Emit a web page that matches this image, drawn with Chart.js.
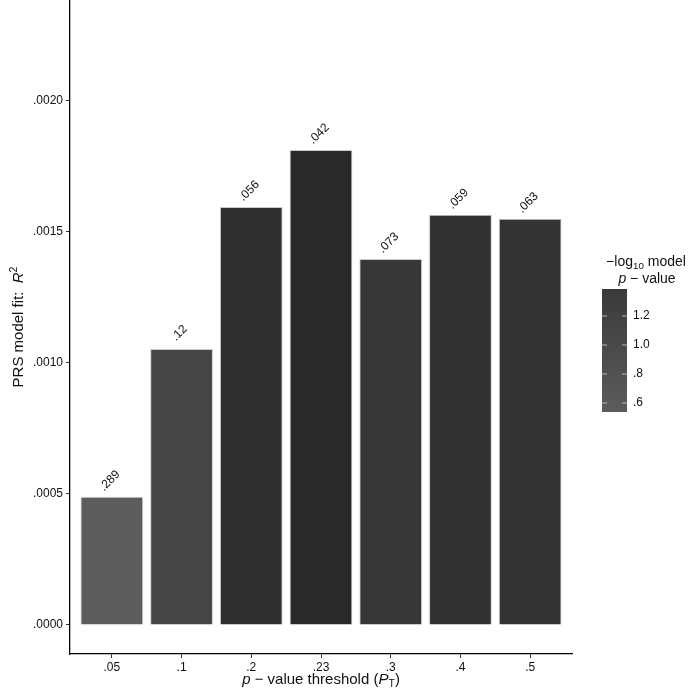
<!DOCTYPE html>
<html>
<head>
<meta charset="utf-8">
<script src="https://cdn.jsdelivr.net/npm/chart.js@4.4.1/dist/chart.umd.min.js"></script>
<style>
  html, body { margin: 0; padding: 0; background: #fff; }
  #wrap { width: 692px; height: 697px; position: relative; }
</style>
</head>
<body>
<div id="wrap"><canvas id="prs" width="692" height="697"></canvas></div>
<script>
// data
var thresholds = ['.05', '.1', '.2', '.23', '.3', '.4', '.5'];
var r2Values = [0.000489, 0.001053, 0.001595, 0.001813, 0.001397, 0.001565, 0.001550];
var pLabels = ['.289', '.12', '.056', '.042', '.073', '.059', '.063'];
var pValues = [0.289, 0.12, 0.056, 0.042, 0.073, 0.059, 0.063];
var yTicks = [0, 0.0005, 0.0010, 0.0015, 0.0020];
var legendTicks = [0.6, 0.8, 1.0, 1.2];
var legendTickLabels = ['.6', '.8', '1.0', '1.2'];

var FONT = '"Liberation Sans", Arial, sans-serif';

// -log10 p, colour goes from light grey (low) to near black (high)
var logP = pValues.map(function (p) { return -Math.log10(p); });
var lowLog = 0.538, highLog = 1.386;
function greyFor(v) {
  var t = (v - lowLog) / (highLog - lowLog);
  t = Math.max(0, Math.min(1, t));
  var c = Math.round(92 - t * 52);
  return 'rgb(' + c + ',' + c + ',' + c + ')';
}
var barColors = logP.map(greyFor);

// draws text made of pieces (italic, sub, sup) centred on x
function drawRich(ctx, parts, x, y, size) {
  var widths = [];
  var total = 0;
  parts.forEach(function (p) {
    var s = p.small ? size * 0.7 : size;
    ctx.font = (p.italic ? 'italic ' : '') + s + 'px ' + FONT;
    var w = ctx.measureText(p.t).width;
    widths.push(w);
    total += w;
  });
  var cx = x - total / 2;
  parts.forEach(function (p, i) {
    var s = p.small ? size * 0.7 : size;
    ctx.font = (p.italic ? 'italic ' : '') + s + 'px ' + FONT;
    ctx.fillText(p.t, cx, y + (p.dy || 0));
    cx += widths[i];
  });
}

var extras = {
  id: 'extras',
  afterDatasetsDraw: function (chart) {
    var ctx = chart.ctx;
    var meta = chart.getDatasetMeta(0);
    ctx.save();
    ctx.fillStyle = '#111';
    // value labels over bars, turned 45 degrees
    ctx.font = '12px ' + FONT;
    ctx.textAlign = 'center';
    ctx.textBaseline = 'middle';
    meta.data.forEach(function (bar, i) {
      ctx.save();
      ctx.translate(bar.x - 2, bar.y - 16);
      ctx.rotate(-Math.PI / 4);
      ctx.fillText(pLabels[i], 0, 0);
      ctx.restore();
    });

    // axis titles
    var area = chart.chartArea;
    ctx.textAlign = 'left';
    ctx.textBaseline = 'middle';
    drawRich(ctx, [
      { t: 'p', italic: true },
      { t: ' \u2212 value threshold (' },
      { t: 'P', italic: true },
      { t: 'T', small: true, dy: 4 },
      { t: ')' }
    ], (area.left + area.right) / 2, 680, 15);

    ctx.save();
    ctx.translate(19, (area.top + area.bottom) / 2);
    ctx.rotate(-Math.PI / 2);
    drawRich(ctx, [
      { t: 'PRS model fit:  ' },
      { t: 'R', italic: true },
      { t: '2', small: true, dy: -5 }
    ], 0, 0, 15);
    ctx.restore();

    // colour bar legend
    var bx = 602, bw = 25, by = 289, bh = 123;
    drawRich(ctx, [
      { t: '\u2212log' },
      { t: '10', small: true, dy: 4 },
      { t: ' model' }
    ], 646, 262, 14);
    drawRich(ctx, [
      { t: 'p', italic: true },
      { t: ' \u2212 value' }
    ], 647, 279, 14);

    var grad = ctx.createLinearGradient(0, by, 0, by + bh);
    grad.addColorStop(0, '#3a3a3a');
    grad.addColorStop(1, '#5c5c5c');
    ctx.fillStyle = grad;
    ctx.fillRect(bx, by, bw, bh);

    ctx.font = '12px ' + FONT;
    ctx.textAlign = 'left';
    legendTicks.forEach(function (v, i) {
      var ty = by + bh - (v - lowLog) / (highLog - lowLog) * bh;
      ctx.strokeStyle = 'rgba(255,255,255,0.6)';
      ctx.lineWidth = 1;
      ctx.beginPath();
      ctx.moveTo(bx, ty); ctx.lineTo(bx + 5, ty);
      ctx.moveTo(bx + bw - 5, ty); ctx.lineTo(bx + bw, ty);
      ctx.stroke();
      ctx.fillStyle = '#111';
      ctx.fillText(legendTickLabels[i], bx + bw + 6, ty);
    });
    ctx.restore();
  }
};

var ctx = document.getElementById('prs').getContext('2d');
var chart = new Chart(ctx, {
  type: 'bar',
  data: {
    datasets: [{
      data: r2Values.map(function (v, i) { return { x: i, y: v }; }),
      backgroundColor: barColors,
      borderColor: 'rgba(150,150,150,0.5)',
      borderWidth: 1,
      categoryPercentage: 0.9,
      barPercentage: 1.0
    }]
  },
  options: {
    responsive: false,
    maintainAspectRatio: false,
    animation: false,
    devicePixelRatio: 1,
    layout: { padding: { top: 0, right: 120, bottom: 0, left: 0 } },
    plugins: { legend: { display: false }, tooltip: { enabled: false } },
    scales: {
      x: {
        type: 'linear',
        offset: false,
        min: -0.6,
        max: 6.6,
        afterBuildTicks: function (axis) {
          axis.ticks = thresholds.map(function (t, i) { return { value: i }; });
        },
        afterFit: function (axis) {
          axis.height = 43;
          axis.paddingLeft = 0;
          axis.paddingRight = 0;
        },
        ticks: {
          callback: function (v) { return thresholds[v]; },
          color: '#111',
          font: { family: FONT, size: 12 },
          padding: 2,
          maxRotation: 0
        },
        grid: { offset: false, drawOnChartArea: false, drawTicks: true, tickLength: 4, color: '#333' },
        border: { display: true, color: '#000', width: 1.3 }
      },
      y: {
        min: -0.000111,
        max: 0.002385,
        afterBuildTicks: function (axis) {
          axis.ticks = yTicks.map(function (v) { return { value: v }; });
        },
        afterFit: function (axis) {
          axis.width = 70;
          axis.paddingTop = 0;
          axis.paddingBottom = 0;
        },
        ticks: {
          callback: function (v) { return v.toFixed(4).replace(/^0/, ''); },
          color: '#111',
          font: { family: FONT, size: 12 },
          padding: 3
        },
        grid: { drawOnChartArea: false, drawTicks: true, tickLength: 4, color: '#333' },
        border: { display: true, color: '#000', width: 1.3 }
      }
    }
  },
  plugins: [extras]
});
</script>
</body>
</html>
